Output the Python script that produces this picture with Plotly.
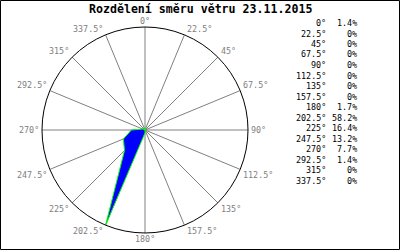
import math
import plotly.graph_objects as go

directions = [0, 22.5, 45, 67.5, 90, 112.5, 135, 157.5, 180, 202.5, 225, 247.5, 270, 292.5, 315, 337.5]
dir_labels = ["0°", "22.5°", "45°", "67.5°", "90°", "112.5°", "135°", "157.5°",
              "180°", "202.5°", "225°", "247.5°", "270°", "292.5°", "315°", "337.5°"]
percent = [1.4, 0, 0, 0, 0, 0, 0, 0, 1.7, 58.2, 16.4, 13.2, 7.7, 1.4, 0, 0]
pct_labels = ["1.4%", "0%", "0%", "0%", "0%", "0%", "0%", "0%",
              "1.7%", "58.2%", "16.4%", "13.2%", "7.7%", "1.4%", "0%", "0%"]
title = "Rozdělení směru větru 23.11.2015"

W, H = 400, 250
mono = "DejaVu Sans Mono"
small = 8.4

# polar area in pixels
cx, cy, R = 145, 130, 103

fig = go.Figure()
fig.add_trace(go.Scatterpolar(
    r=percent + [percent[0]],
    theta=directions + [directions[0]],
    mode="lines",
    fill="toself",
    fillcolor="#0000ff",
    line=dict(color="#00ff00", width=1),
    hoverinfo="skip",
    showlegend=False,
))

annotations = [dict(
    text="<b>" + title + "</b>", x=200 / W, y=1 - 9 / H, xref="paper", yref="paper",
    xanchor="center", yanchor="middle", showarrow=False,
    font=dict(family=mono, size=11.6, color="black"),
)]

# angular labels placed at the end of each spoke
for d, lab in zip(directions, dir_labels):
    a = math.radians(d)
    px = cx + R * math.sin(a)
    py = cy - R * math.cos(a)
    s, c = math.sin(a), math.cos(a)
    xa = "center" if abs(s) < 1e-6 else ("left" if s > 0 else "right")
    ya = "middle" if abs(c) < 1e-6 else ("bottom" if c > 0 else "top")
    xs = 0 if xa == "center" else (2 if xa == "left" else -2)
    annotations.append(dict(text=lab, x=px / W, y=1 - py / H, xref="paper", yref="paper",
                            xanchor=xa, yanchor=ya, xshift=xs, showarrow=False, borderpad=0,
                            font=dict(family=mono, size=small, color="#808080")))

# legend table on the right
for i, (d, p) in enumerate(zip(dir_labels, pct_labels)):
    py = 23 + i * 10.5
    annotations.append(dict(text=d, x=327 / W, y=1 - py / H, xref="paper", yref="paper",
                            xanchor="right", yanchor="middle", showarrow=False, borderpad=0,
                            font=dict(family=mono, size=small, color="black")))
    annotations.append(dict(text=p, x=358 / W, y=1 - py / H, xref="paper", yref="paper",
                            xanchor="right", yanchor="middle", showarrow=False, borderpad=0,
                            font=dict(family=mono, size=small, color="black")))

fig.update_layout(
    width=W, height=H,
    margin=dict(l=0, r=0, t=0, b=0),
    paper_bgcolor="white",
    plot_bgcolor="white",
    polar=dict(
        domain=dict(x=[(cx - R) / W, (cx + R) / W], y=[1 - (cy + R) / H, 1 - (cy - R) / H]),
        bgcolor="white",
        radialaxis=dict(range=[0, max(percent)], showgrid=False, showticklabels=False,
                        showline=False, ticks=""),
        angularaxis=dict(
            rotation=90, direction="clockwise",
            tickmode="array", tickvals=directions, ticktext=dir_labels,
            showticklabels=False,
            showline=True, linecolor="black", linewidth=1,
            showgrid=True, gridcolor="#808080", gridwidth=1,
            ticks="",
        ),
    ),
    annotations=annotations,
    shapes=[dict(type="rect", xref="paper", yref="paper",
                 x0=0.5 / W, x1=1 - 0.5 / W, y0=0.5 / H, y1=1 - 0.5 / H,
                 line=dict(color="black", width=1))],
)

fig.write_html("out.html")
